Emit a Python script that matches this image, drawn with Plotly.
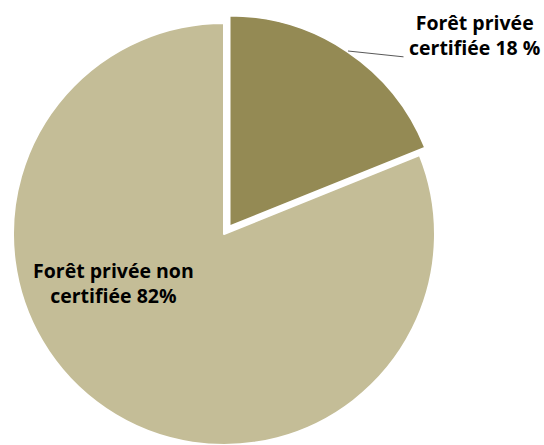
import plotly.graph_objects as go

labels = ["Forêt privée certifiée", "Forêt privée non certifiée"]
values = [18.9, 81.1]
label_texts = ["Forêt privée<br>certifiée 18 %", "Forêt privée non<br>certifiée 82%"]
colors = ["#948A54", "#C4BD97"]

W, H = 544, 445

fig = go.Figure()

# Main pie (large slice), the small slice left transparent
fig.add_trace(go.Pie(
    labels=labels, values=values, sort=False, direction="clockwise", rotation=0,
    marker=dict(colors=["rgba(0,0,0,0)", colors[1]],
                line=dict(color="white", width=[0, 2])),
    textinfo="none", hoverinfo="label+percent", showlegend=False,
    domain=dict(x=[13 / W, 435 / W], y=[0, 422 / H]),
))

# Exploded small slice
fig.add_trace(go.Pie(
    labels=labels, values=values, sort=False, direction="clockwise", rotation=0,
    marker=dict(colors=[colors[0], "rgba(0,0,0,0)"],
                line=dict(color="white", width=[2, 0])),
    textinfo="none", hoverinfo="label+percent", showlegend=False,
    domain=dict(x=[18.5 / W, 440.5 / W], y=[7.5 / H, 429.5 / H]),
))

font = dict(family="Open Sans, sans-serif", size=19.5, color="#000000")

fig.add_annotation(
    x=474.5 / W, y=1 - 35 / H, xref="paper", yref="paper", xanchor="center", yanchor="middle",
    text="<b>" + label_texts[0] + "</b>", showarrow=False, font=font, align="center",
)
fig.add_annotation(
    x=113.5 / W, y=1 - 283 / H, xref="paper", yref="paper", xanchor="center", yanchor="middle",
    text="<b>" + label_texts[1] + "</b>", showarrow=False, font=font, align="center",
)
# leader line for the small slice label
fig.add_annotation(
    x=348 / W, y=1 - 51 / H, xref="paper", yref="paper",
    text="", showarrow=True, arrowhead=0, arrowwidth=1, arrowcolor="#595959",
    ax=57, ay=6,
)

fig.update_layout(
    width=W, height=H, margin=dict(l=0, r=0, t=0, b=0),
    paper_bgcolor="white", plot_bgcolor="white",
)

fig.write_html("out.html", config={"displayModeBar": False},
               post_script="document.body.style.margin='0';")
